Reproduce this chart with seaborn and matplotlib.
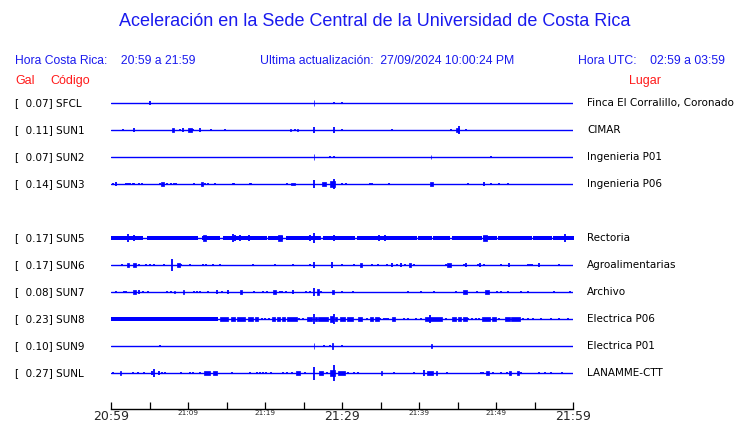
import numpy as np
import pandas as pd
import matplotlib.pyplot as plt
import matplotlib.transforms as mtransforms
import seaborn as sns

# stations (row 4 = SUN4, no data)
codes = ['SFCL', 'SUN1', 'SUN2', 'SUN3', 'SUN5', 'SUN6', 'SUN7', 'SUN8', 'SUN9', 'SUNL']
gals = [0.07, 0.11, 0.07, 0.14, 0.17, 0.17, 0.08, 0.23, 0.10, 0.27]
places = ['Finca El Corralillo, Coronado', 'CIMAR', 'Ingenieria P01', 'Ingenieria P06',
          'Rectoria', 'Agroalimentarias', 'Archivo', 'Electrica P06', 'Electrica P01', 'LANAMME-CTT']
rows = [0, 1, 2, 3, 5, 6, 7, 8, 9, 10]

tick_min = list(range(0, 61, 5))
tick_txt = ['20:59', '', '21:09', '', '21:19', '', '21:29', '', '21:39', '', '21:49', '', '21:59']

# events: (minute after 20:59, duration in min, half amplitude in px)
ev_sfcl = [(5.0, 0, 1.5), (26.3, 0.1, 2), (28.9, 0, 1), (30.0, 0, 0.5)]
ev_sun1 = [(1.5, 0, 0.5), (3.0, 0, 1.5), (7.9, 0.3, 1.5), (8.9, 0, 1), (9.4, 0, 1.5), (10.0, 0.5, 1.5),
           (10.7, 0, 1), (11.6, 0, 1.5), (13.0, 0, 1), (14.8, 0, 1), (23.3, 0.1, 1), (23.9, 0, 1),
           (24.2, 0.1, 1), (26.3, 0, 2), (28.9, 0, 2), (30.0, 0, 1), (36.5, 0, 1), (44.2, 0, 1),
           (44.8, 0.4, 1.5), (45.2, 0, 3), (46.1, 0, 1)]
ev_sun2 = [(26.3, 0.1, 2), (28.5, 0, 0.5), (28.9, 0, 1), (41.5, 0.1, 1.5), (49.4, 0, 0.5)]
ev_sun3 = [(0.3, 0, 0.7), (0.7, 0, 1.5), (1.9, 0, 0.5), (2.2, 0, 1), (2.5, 0, 1), (2.8, 0, 1), (3.0, 0, 0.5),
           (3.6, 0, 1), (4.0, 0, 1), (6.3, 0, 1), (6.5, 0.35, 1.5), (7.3, 0, 1), (7.8, 0, 1), (8.2, 0, 1),
           (8.5, 0, 1), (10.8, 0, 1), (11.7, 0.2, 1.5), (12.2, 0, 0.5), (12.6, 0, 1), (13.5, 0, 0.5),
           (15.8, 0, 1), (16.0, 0, 0.5), (18.0, 0, 1), (18.2, 0, 1), (22.9, 0, 1), (23.4, 0.5, 0.7),
           (26.3, 0, 3), (27.4, 0.5, 1.5), (28.4, 0.75, 2), (28.9, 0, 3.5), (30.0, 0, 1), (30.5, 0, 0.5),
           (33.7, 0, 1), (33.9, 0, 0.5), (36.1, 0, 1), (41.4, 0.45, 1.5), (46.3, 0, 0.5), (48.5, 0, 1.5),
           (49.4, 0, 1), (50.4, 0, 1), (51.5, 0, 0.7)]
ev_sun5 = [(2.2, 0, 3), (3.0, 0, 2), (6.1, 0, 1.5), (12.0, 0.35, 2.5), (15.8, 0, 3), (16.1, 0, 2),
           (16.8, 0, 2), (17.3, 0, 1.5), (17.9, 0, 2), (21.1, 0, 1.5), (21.7, 0.45, 2), (25.9, 0, 2.5),
           (26.3, 0, 4), (27.1, 0, 1.5), (28.9, 0, 2.5), (30.4, 0, 1), (32.1, 0, 1.5), (33.0, 0, 1.5),
           (34.8, 0, 2), (35.6, 0, 2.5), (36.8, 0, 1.5), (48.35, 0.45, 2.5), (53.3, 0, 1), (58.9, 0, 3),
           (60.0, 0, 1)]
ev_sun6 = [(1.4, 0, 1), (2.1, 0.25, 1.5), (2.8, 0.45, 1.5), (3.6, 0, 1), (4.6, 0, 1), (5.0, 0, 1),
           (5.6, 0, 0.7), (6.9, 0, 1), (7.9, 0, 4.5), (8.6, 0.35, 1.5), (9.1, 0, 1), (10.2, 0, 0.5),
           (12.0, 0, 1), (12.3, 0, 1), (13.3, 0, 1), (14.1, 0, 1), (18.5, 0, 0.5), (21.3, 0, 0.5),
           (23.7, 0, 0.5), (25.8, 0, 1), (26.3, 0, 2), (28.7, 0, 2), (30.0, 0, 1), (31.6, 0, 1),
           (32.3, 0.35, 1.5), (33.9, 0, 0.5), (34.7, 0, 1), (35.9, 0, 1), (36.5, 0, 1.5), (37.2, 0, 1),
           (37.6, 0, 1.5), (38.2, 0, 1), (38.7, 0.3, 1.5), (39.4, 0, 1), (43.5, 0, 1), (43.7, 0.45, 1.5),
           (45.8, 0, 0.5), (46.1, 0, 1.5), (47.6, 0, 1), (47.9, 0, 1.5), (48.5, 0, 1), (50.6, 0, 1),
           (51.7, 0, 1.5), (54.1, 0, 1), (54.4, 0, 1), (54.7, 0, 1), (55.6, 0, 1.5), (58.2, 0, 1)]
ev_sun7 = [(0.7, 0, 0.5), (1.7, 0, 1), (1.9, 0, 1), (2.9, 0.3, 1.5), (3.7, 0, 1.5), (4.1, 0, 1),
           (4.8, 0, 0.5), (7.3, 0, 1), (7.8, 0, 1), (8.2, 0.15, 1), (9.3, 0.2, 1.5), (10.8, 0, 1),
           (11.2, 0, 1), (11.5, 0, 0.5), (12.6, 0, 0.5), (13.8, 0, 1.5), (14.4, 0, 1), (15.2, 0, 1.5),
           (16.8, 0.2, 1.5), (18.6, 0, 0.5), (19.8, 0, 0.5), (20.2, 0, 1), (21.1, 0.3, 1.5), (21.9, 0, 1),
           (22.2, 0, 1), (22.7, 0, 1), (23.6, 0, 1.5), (25.3, 0, 1), (25.8, 0, 1), (26.3, 0, 3),
           (26.8, 0.2, 2), (27.3, 0, 1), (28.7, 0.25, 1.5), (30.0, 0, 1), (31.4, 0, 1), (38.6, 0, 1),
           (40.2, 0, 1), (42.0, 0, 1), (44.8, 0, 1), (45.75, 0.45, 1.5), (47.5, 0, 0.5), (48.6, 0.55, 1.5),
           (50.1, 0, 0.5), (50.7, 0, 1), (51.5, 0, 1), (53.2, 0, 0.7), (54.1, 0, 0.5), (57.5, 0, 0.5),
           (59.6, 0, 1)]
ev_sun8 = [(6.3, 0, 1.5), (14.15, 1.1, 1.5), (15.6, 0.5, 1.5), (16.4, 1.0, 1.5), (17.8, 0.65, 1.5),
           (18.7, 0.45, 1.5), (19.6, 0, 1), (20.0, 0, 1), (20.5, 0, 0.5), (20.9, 0.4, 1.5), (21.5, 0.45, 1.5),
           (22.2, 0.4, 1.5), (22.8, 1.3, 1.5), (24.4, 0, 1), (24.9, 0, 0.5), (25.4, 0.65, 1.5), (26.3, 0, 4),
           (26.5, 0.2, 1.5), (26.9, 1.3, 1.5), (28.4, 0.45, 2), (28.9, 0, 3.5), (29.1, 0.3, 1.5),
           (29.7, 0.65, 1.5), (30.6, 0.8, 1.5), (32.1, 0.55, 1.5), (33.2, 0, 0.5), (33.6, 0.45, 1.5),
           (34.3, 0.45, 1.5), (34.9, 0, 1), (35.4, 0, 1), (35.7, 0, 0.5), (36.0, 0, 1), (36.45, 0.45, 1.5),
           (38.0, 0, 0.5), (38.6, 0, 0.5), (39.6, 0, 1), (40.2, 0, 1), (40.8, 2.15, 1.5), (41.4, 0, 3),
           (43.5, 0, 1), (44.25, 0.55, 1.5), (45.1, 0.3, 1.5), (45.75, 0.45, 1.5), (46.4, 0, 1), (46.9, 0, 1),
           (47.4, 0, 1), (47.8, 0, 0.5), (48.2, 1.0, 1.5), (49.5, 0.45, 1.5), (50.4, 0, 1), (51.2, 0.65, 1.5),
           (52.0, 1.1, 1.5), (53.5, 0, 0.5), (54.2, 0, 0.5), (54.8, 0, 1), (55.8, 0, 1), (57.2, 0, 1),
           (58.2, 0, 0.5), (59.4, 0, 1)]
ev_sun9 = [(6.3, 0, 0.5), (26.3, 0.1, 2), (27.7, 0, 1), (28.4, 0, 1), (28.7, 0.15, 2), (30.0, 0, 0.7),
           (41.5, 0.15, 1.5)]
ev_sunl = [(0.3, 0, 0.5), (1.2, 0.1, 1.5), (2.9, 0, 0.7), (3.5, 0, 0.5), (4.3, 0, 1), (5.3, 0, 1.5),
           (5.6, 0, 3), (6.2, 0, 1.5), (6.6, 0, 1), (7.0, 0, 0.5), (9.1, 0, 0.7), (10.3, 0, 0.5), (10.6, 0, 0.5),
           (11.6, 0, 1), (12.1, 0.75, 1.5), (13.2, 0.55, 1.5), (15.7, 0, 1), (18.0, 0, 0.5), (19.0, 0, 1),
           (19.4, 0, 1), (19.8, 0, 1), (20.1, 0, 0.7), (20.8, 0, 1), (22.3, 0, 1), (22.9, 0, 0.5), (23.5, 0, 1),
           (24.0, 0.6, 1.5), (25.2, 0, 1), (26.3, 0, 5), (27.05, 0.45, 1.5), (28.0, 0, 1), (28.4, 0.65, 2.5),
           (28.9, 0, 6), (29.5, 0.85, 1.5), (30.8, 0, 0.7), (31.5, 0, 1), (32.1, 0, 1), (35.0, 0.15, 1.5),
           (36.8, 0, 1), (39.3, 0, 0.7), (40.6, 0, 2.5), (41.0, 0.8, 1.5), (42.2, 0.2, 1.5), (43.7, 0, 1),
           (48.0, 0, 1), (48.3, 0, 1), (48.7, 0.4, 1.5), (49.6, 0, 1), (50.6, 0, 0.5), (51.4, 0, 0.5),
           (51.7, 0.3, 1.5), (52.7, 0.35, 1.5), (53.3, 0, 1), (55.6, 0, 0.5), (56.4, 0, 1), (57.2, 0, 0.5),
           (58.6, 0, 1)]
events = [ev_sfcl, ev_sun1, ev_sun2, ev_sun3, ev_sun5, ev_sun6, ev_sun7, ev_sun8, ev_sun9, ev_sunl]

# continuous noise band (start, end in minutes), half width in px
band_sun5 = [(0, 4.2), (4.7, 11.3), (11.8, 14.2), (14.55, 20.25), (20.4, 22.3), (22.7, 27.1), (27.5, 31.7),
             (31.95, 39.75), (39.9, 41.7), (41.8, 44.0), (44.3, 48.2), (48.3, 50.1), (50.25, 54.7),
             (54.8, 57.25), (57.4, 60.2)]
band_sun8 = [(0, 13.9)]
bands = {'SUN5': (band_sun5, 1.7), 'SUN8': (band_sun8, 1.5)}

blue = '#0000ff'
px = 1.3 / 27.0  # one pixel of amplitude in row units

sns.set_style('white')
fig = plt.figure(figsize=(7.4, 4.23), dpi=100)
ax = fig.add_axes([0.15, 1 - 409 / 423, 462 / 740, 319 / 423])

# baselines
base = pd.DataFrame({'t': [0, 60.2] * len(rows), 'y': np.repeat(rows, 2),
                     'code': np.repeat(codes, 2)})
sns.lineplot(data=base, x='t', y='y', units='code', estimator=None, color=blue,
             linewidth=1.0, ax=ax, legend=False)

for code, r, evs in zip(codes, rows, events):
    if code in bands:
        segs, half = bands[code]
        for a, b in segs:
            ax.fill_between([a, b], r - half * px, r + half * px, color=blue, linewidth=0)
    for t, d, amp in evs:
        if d == 0:
            ax.vlines(t, r - amp * px, r + amp * px, color=blue, linewidth=1.3)
        else:
            ax.fill_between([t, t + d], r - amp * px, r + amp * px, color=blue, linewidth=0.5,
                            edgecolor=blue)

ax.set_xlim(0, 60)
ax.set_ylim(10 + 36 / 27, -13 / 27)
ax.set_xlabel('')
ax.set_ylabel('')
ax.set_yticks([])
for s in ['top', 'left', 'right']:
    ax.spines[s].set_visible(False)
ax.spines['bottom'].set_color('black')
ax.spines['bottom'].set_linewidth(1.0)
ax.set_xticks(tick_min)
ax.set_xticklabels(tick_txt)
ax.tick_params(axis='x', direction='in', length=5, width=0.9, color='black', pad=0.5, bottom=True)
for i, lab in enumerate(ax.get_xticklabels()):
    lab.set_fontsize(9 if i % 6 == 0 else 5.2)
    lab.set_family('DejaVu Sans')

# station labels
trl = mtransforms.blended_transform_factory(fig.transFigure, ax.transData)
for code, g, place, r in zip(codes, gals, places, rows):
    ax.text(15 / 740, r, '[%6.2f] %s' % (g, code), transform=trl, ha='left', va='center',
            fontsize=7.5, family='DejaVu Sans', color='black')
    ax.text(587 / 740, r, place, transform=trl, ha='left', va='center',
            fontsize=7.5, family='DejaVu Sans', color='black')

# header
hdr = dict(family='Liberation Sans', color='#1a1aee', va='center')
fig.text(375 / 740, 1 - 22 / 423, 'Aceleración en la Sede Central de la Universidad de Costa Rica',
         ha='center', fontsize=13, **hdr)
fig.text(15 / 740, 1 - 61 / 423, 'Hora Costa Rica:    20:59 a 21:59', ha='left', fontsize=8.7, **hdr)
fig.text(260 / 740, 1 - 61 / 423, 'Ultima actualización:  27/09/2024 10:00:24 PM', ha='left', fontsize=8.8, **hdr)
fig.text(725 / 740, 1 - 61 / 423, 'Hora UTC:    02:59 a 03:59', ha='right', fontsize=8.8, **hdr)
red = dict(family='Liberation Sans', color='#ff1a1a', va='center', fontsize=9)
fig.text(15 / 740, 1 - 81 / 423, 'Gal', ha='left', **red)
fig.text(50 / 740, 1 - 81 / 423, 'Código', ha='left', **red)
fig.text(645 / 740, 1 - 81 / 423, 'Lugar', ha='center', **red)

fig.savefig('out.png', dpi=100)
